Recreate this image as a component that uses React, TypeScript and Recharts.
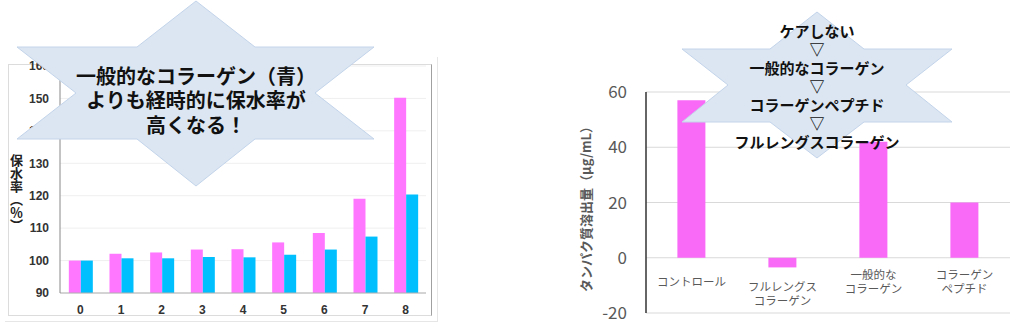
import { BarChart, Bar, XAxis, YAxis, CartesianGrid } from 'recharts'

// left chart: water retention rate over time
const days = ['0', '1', '2', '3', '4', '5', '6', '7', '8']
const fullLengthRate = [100, 102.1, 102.5, 103.4, 103.5, 105.6, 108.5, 119.1, 150.2]
const generalRate = [100, 100.7, 100.7, 101.1, 101.0, 101.8, 103.4, 107.4, 120.4]
const rateTicks = [90, 100, 110, 120, 130, 140, 150, 160]

// right chart: protein elution
const groups = ['コントロール', 'フルレングス\nコラーゲン', '一般的な\nコラーゲン', 'コラーゲン\nペプチド']
const elution = [57, -3.5, 42, 20]
const elutionTicks = [-20, 0, 20, 40, 60]

const leftCallout = ['一般的なコラーゲン（青）', 'よりも経時的に保水率が', '高くなる！']
const rightCallout = ['ケアしない', '▽', '一般的なコラーゲン', '▽', 'コラーゲンペプチド', '▽', 'フルレングスコラーゲン']

const rateData = days.map((d, i) => ({ day: d, full: fullLengthRate[i], general: generalRate[i] }))
const elutionData = groups.map((g, i) => ({ group: g, value: elution[i] }))

const jp = '"Noto Sans CJK JP", "Noto Sans", sans-serif'

function GroupTick(props: any) {
  const { x, y, payload, index } = props
  const lines: string[] = String(payload.value).split('\n')
  const neg = elution[index] < 0
  const center = y - 32 + (neg ? 12 : 0)
  return (
    <g>
      {lines.map((l, i) => (
        <text key={i} x={x} y={center + (i - (lines.length - 1) / 2) * 13.5} textAnchor="middle"
          dominantBaseline="central" fontSize={11.5} fill="#595959" fontFamily={jp}>{l}</text>
      ))}
    </g>
  )
}

export default function App() {
  return (
    <div style={{ position: 'absolute', left: 0, top: 0, width: 1024, height: 331, background: '#fff', overflow: 'hidden' }}>
      {/* left frame */}
      <div style={{ position: 'absolute', left: 8, top: 64, width: 422, height: 250, border: '1px solid #dcdcdc', borderRightColor: '#a0a0a0' }} />
      <div style={{ position: 'absolute', left: 437, top: 57, width: 1, height: 265, background: '#e6e6e6' }} />
      <div style={{ position: 'absolute', left: 5, top: 321, width: 433, height: 1, background: '#e6e6e6' }} />

      <div style={{ position: 'absolute', left: 0, top: 0 }}>
        <BarChart width={440} height={331} data={rateData} barCategoryGap="21.7%" barGap={0}
          margin={{ top: 66, right: 14, left: 0, bottom: 8 }}>
          <CartesianGrid vertical={false} stroke="#efefef" />
          <XAxis dataKey="day" height={30} tickLine={false} stroke="#b0b0b0" tickMargin={6}
            tick={{ fontSize: 12, fontWeight: 700, fill: '#333', fontFamily: '"Liberation Sans", Arial, sans-serif' }} />
          <YAxis width={60} domain={[90, 160]} ticks={rateTicks} tickLine={false} stroke="#888" tickMargin={5}
            tick={{ fontSize: 12, fontWeight: 700, fill: '#333', fontFamily: '"Liberation Sans", Arial, sans-serif' }} />
          <Bar dataKey="full" fill="#ff77ff" isAnimationActive={false} />
          <Bar dataKey="general" fill="#00bfff" isAnimationActive={false} />
        </BarChart>
      </div>

      <div style={{ position: 'absolute', left: 10, top: 154, writingMode: 'vertical-rl', fontSize: 13, fontWeight: 700,
        lineHeight: 1, color: '#222', fontFamily: jp }}>保水率（％）</div>

      <div style={{ position: 'absolute', left: 560, top: 0 }}>
        <BarChart width={464} height={331} data={elutionData} barCategoryGap="34.5%"
          margin={{ top: 92, right: 14, left: 0, bottom: 0 }}>
          <CartesianGrid vertical={false} stroke="#d9d9d9" />
          <XAxis dataKey="group" height={18} axisLine={false} tickLine={false} tickSize={0} tickMargin={0}
            interval={0} tick={<GroupTick />} />
          <YAxis width={86} domain={[-20, 60]} ticks={elutionTicks} tickLine={false} stroke="#333" strokeWidth={1.5}
            tickMargin={13} tick={{ fontSize: 17, fill: '#595959', fontFamily: jp }} />
          <Bar dataKey="value" fill="#f96af7" isAnimationActive={false} />
        </BarChart>
      </div>

      <svg width={1024} height={331} style={{ position: 'absolute', left: 0, top: 0, pointerEvents: 'none' }}>
        <polygon points="17,47 137,47 196,1 255,47 374,47 315,93 374,139 255,139 196,186 137,139 17,139 76,93"
          fill="#dbe6f2" stroke="#c3d4ea" strokeWidth={1} />
        {leftCallout.map((t, i) => (
          <text key={i} x={196} y={75 + i * 24.7} textAnchor="middle" dominantBaseline="central"
            fontSize={20} fontWeight={700} fill="#111" fontFamily={jp}>{t}</text>
        ))}
        <polygon points="682,49 770,49 817,12 864,49 952,49 906,85 952,122 864,122 817,158 770,122 682,122 728,85"
          fill="#dbe6f2" stroke="#c3d4ea" strokeWidth={1} />
        {rightCallout.map((t, i) => (
          <text key={i} x={817} y={30 + i * 18.5} textAnchor="middle" dominantBaseline="central"
            fontSize={15} fontWeight={700} fill="#111" fontFamily={jp}>{t}</text>
        ))}
        <text x={585} y={206} transform="rotate(-90, 585, 206)" textAnchor="middle" dominantBaseline="central"
          fontSize={13} fontWeight={700} fill="#595959" fontFamily={jp}>タンパク質溶出量（µg/mL）</text>
      </svg>
    </div>
  )
}
